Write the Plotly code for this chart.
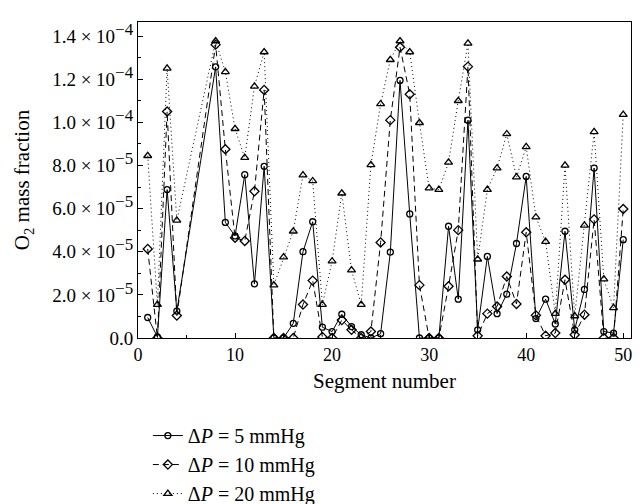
import plotly.graph_objects as go

segments = [1, 2, 3, 4, 8, 9, 10, 11, 12, 13, 14, 15, 16, 17, 18, 19, 20, 21, 22, 23, 24, 25,
            26, 27, 28, 29, 30, 31, 32, 33, 34, 35, 36, 37, 38, 39, 40, 41, 42, 43, 44, 45,
            46, 47, 48, 49, 50]

p5 = [0.95, 0.05, 6.88, 1.25, 12.57, 5.36, 4.73, 7.57, 2.51, 7.96, 0.0, 0.0, 0.68, 4.0, 5.39,
      0.5, 0.3, 1.1, 0.53, 0.15, 0.0, 0.2, 3.98, 11.94, 5.75, 0.0, 0.0, 0.0, 5.18, 1.8, 10.1,
      0.38, 3.78, 1.13, 2.03, 4.38, 7.49, 0.9, 1.8, 0.65, 4.95, 0.38, 2.25, 7.88, 0.3, 0.23, 4.56]

p10 = [4.13, 0.0, 10.5, 1.04, 13.6, 8.75, 4.65, 4.5, 6.8, 11.5, 0.0, 0.0, 0.0, 1.55, 2.66,
       0.05, 0.0, 0.83, 0.38, 0.0, 0.3, 4.43, 10.1, 13.48, 11.3, 2.45, 0.0, 0.0, 2.4, 5.0, 12.58,
       0.1, 1.13, 1.46, 2.85, 1.58, 4.9, 1.05, 0.1, 0.23, 2.7, 0.15, 1.08, 5.5, 0.0, 0.0, 5.98]

p20 = [8.45, 1.55, 12.5, 5.45, 13.77, 12.34, 9.7, 8.36, 11.67, 13.26, 2.45, 3.75, 4.95, 7.55,
       7.28, 1.55, 3.56, 6.71, 3.15, 1.55, 8.03, 10.85, 12.9, 13.77, 13.26, 9.98, 6.95, 6.88,
       8.14, 11.0, 13.66, 3.65, 6.88, 7.88, 9.46, 7.46, 8.86, 5.6, 4.47, 1.13, 8.0, 1.02, 5.22,
       9.56, 2.73, 1.4, 10.36]

scale = 1e-5
series_names = ["Δ<i>P</i> = 5 mmHg", "Δ<i>P</i> = 10 mmHg", "Δ<i>P</i> = 20 mmHg"]

ytick_vals = [0, 2e-5, 4e-5, 6e-5, 8e-5, 1e-4, 1.2e-4, 1.4e-4]
ytick_mant = ["2.0", "4.0", "6.0", "8.0", "1.0", "1.2", "1.4"]
ytick_exp = ["−5", "−5", "−5", "−5", "−4", "−4", "−4"]
ytick_text = ["0.0"] + [
    f'{m} × 10<sup><span style="font-size:17px">{e}</span></sup>'
    for m, e in zip(ytick_mant, ytick_exp)
]
xtick_vals = [0, 10, 20, 30, 40, 50]

font = "Liberation Serif, Times New Roman, serif"

fig = go.Figure()
styles = [
    (p5, "solid", "circle-open", 6),
    (p10, "6px,4px", "diamond-open", 7),
    (p20, "1px,3px", "triangle-up-open", 7),
]
for name, (vals, dash, sym, size) in zip(series_names, styles):
    fig.add_trace(go.Scatter(
        x=segments, y=[v * scale for v in vals], name=name, mode="lines+markers",
        line=dict(color="black", width=1, dash=dash),
        marker=dict(symbol=sym, size=size, color="black", line=dict(width=1.3, color="black")),
    ))

fig.update_layout(
    width=643, height=504,
    margin=dict(l=138, r=12, t=22, b=166, autoexpand=False),
    paper_bgcolor="white", plot_bgcolor="white",
    font=dict(family=font, size=18, color="black"),
    showlegend=True,
    legend=dict(x=0.02, y=-0.247, xanchor="left", yanchor="top",
                font=dict(size=20, family=font), bgcolor="rgba(0,0,0,0)",
                tracegroupgap=0),
)
fig.update_xaxes(
    range=[0, 50.8], tickvals=xtick_vals, ticks="inside", ticklen=5, tickwidth=1,
    tickcolor="black", showline=True, linecolor="black", linewidth=1, mirror=True,
    showgrid=False, zeroline=False, automargin=False,
    minor=dict(ticks="inside", ticklen=3, tickwidth=1, tickcolor="black", dtick=5, tick0=0, showgrid=False),
    title=dict(text="Segment number", font=dict(size=21), standoff=9),
    tickfont=dict(size=18),
)
fig.update_yaxes(
    range=[0, 1.465e-4], tickvals=ytick_vals, ticktext=ytick_text, ticks="inside", ticklen=5,
    tickwidth=1, tickcolor="black", showline=True, linecolor="black", linewidth=1, mirror=True,
    showgrid=False, zeroline=False, automargin=False,
    minor=dict(ticks="inside", ticklen=3, tickwidth=1, tickcolor="black", dtick=1e-5, tick0=0, showgrid=False),
    title=dict(text="O<sub>2</sub> mass fraction", font=dict(size=21), standoff=16),
    tickfont=dict(size=19),
)

fig.write_html("out.html", config={"displayModeBar": False},
               post_script="document.body.style.margin='0px';")
